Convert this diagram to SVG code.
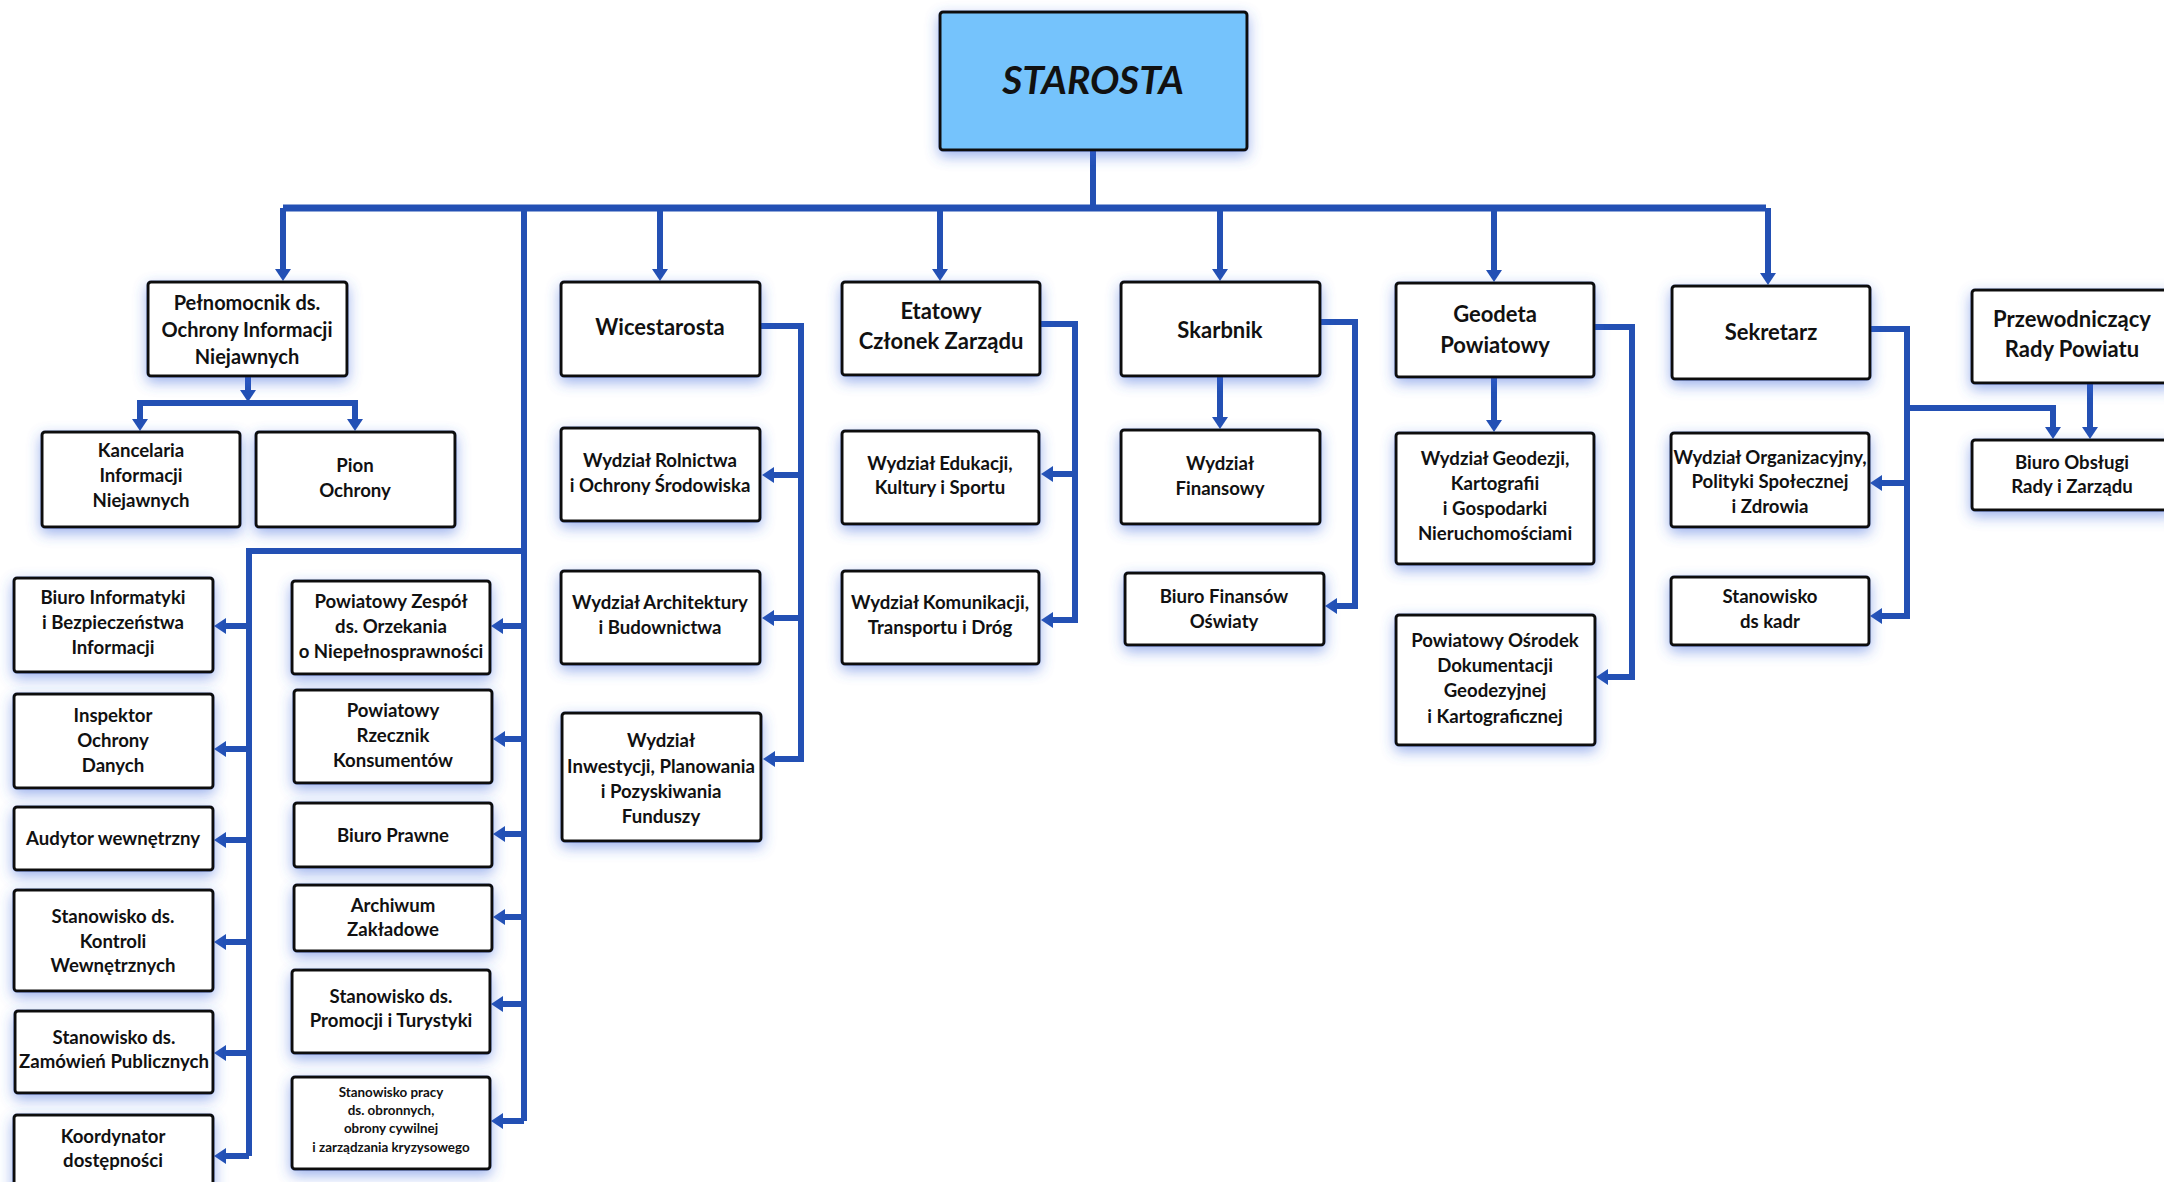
<svg xmlns="http://www.w3.org/2000/svg" width="2164" height="1182" viewBox="0 0 2164 1182">
<defs>
<filter id="glow" x="-20%" y="-25%" width="140%" height="160%">
<feGaussianBlur in="SourceAlpha" stdDeviation="7" result="b"/>
<feOffset in="b" dy="5" result="o"/>
<feFlood flood-color="#3a66dc" flood-opacity="0.5"/>
<feComposite in2="o" operator="in" result="s"/>
<feMerge><feMergeNode in="s"/><feMergeNode in="SourceGraphic"/></feMerge>
</filter>
<marker id="ah" viewBox="0 0 12 16" refX="0" refY="8" markerWidth="12" markerHeight="16" markerUnits="userSpaceOnUse" orient="auto">
<path d="M0,0 L12,8 L0,16 z" fill="#2350B4"/>
</marker>
</defs>
<style>
.box{fill:#fff;stroke:#111;stroke-width:3;filter:url(#glow)}
.top{fill:#74C3FC}
text{font-family:Lato,"Open Sans","Liberation Sans",sans-serif;font-weight:bold;fill:#111;text-anchor:middle;font-size:18.6px}
.lg{font-size:22px}
.md{font-size:20px}
.sm{font-size:13.4px}
.st{font-size:39px;font-style:italic}
.c{fill:none;stroke:#2350B4;stroke-width:6;stroke-linejoin:miter}
.a{marker-end:url(#ah)}
.bus{stroke-width:7}
</style>
<rect width="2164" height="1182" fill="#fff"/>

<g id="connectors">
<path class="c" d="M1093,149 V208"/>
<path class="c bus" d="M283,208 H1766"/>
<path class="c a" d="M283,208 V269"/>
<path class="c a" d="M660,208 V269"/>
<path class="c a" d="M940,208 V269"/>
<path class="c a" d="M1220,208 V269"/>
<path class="c a" d="M1494,208 V270"/>
<path class="c a" d="M1768,208 V273"/>
<path class="c" d="M524,208 V1121"/>
<path class="c" d="M524,551 H249 V1156"/>
<path class="c a" d="M249,626 H226"/>
<path class="c a" d="M249,749 H226"/>
<path class="c a" d="M249,840 H226"/>
<path class="c a" d="M249,942 H226"/>
<path class="c a" d="M249,1053 H226"/>
<path class="c a" d="M249,1156 H226"/>
<path class="c a" d="M524,626 H503"/>
<path class="c a" d="M524,739 H505"/>
<path class="c a" d="M524,834 H505"/>
<path class="c a" d="M524,917 H505"/>
<path class="c a" d="M524,1004 H503"/>
<path class="c a" d="M524,1121 H503"/>
<path class="c a" d="M248,376 V390"/>
<path class="c" d="M140,419 V403 H355 V419"/>
<path class="c a" d="M140,403 V419"/>
<path class="c a" d="M355,403 V419"/>
<path class="c a" d="M760,326 H801 V759 H775"/>
<path class="c a" d="M801,475 H774"/>
<path class="c a" d="M801,618 H774"/>
<path class="c a" d="M1040,324 H1075 V620 H1053"/>
<path class="c a" d="M1075,474 H1053"/>
<path class="c a" d="M1220,376 V417"/>
<path class="c a" d="M1320,322 H1355 V606 H1337"/>
<path class="c a" d="M1494,377 V420"/>
<path class="c a" d="M1594,327 H1632 V677 H1608"/>
<path class="c a" d="M1870,329 H1907 V616 H1882"/>
<path class="c a" d="M1907,483 H1882"/>
<path class="c a" d="M1907,408 H2053 V427"/>
<path class="c a" d="M2090,383 V427"/>
</g>

<g id="starosta"><rect class="box top" x="940" y="12" width="307" height="138" rx="3"/><text class="st" x="1093" y="94">STAROSTA</text></g>

<g id="pelnomocnik"><rect class="box" x="148" y="282" width="199" height="94" rx="3"/><text class="md" x="247" y="310">Pełnomocnik ds.</text><text class="md" x="247" y="337">Ochrony Informacji</text><text class="md" x="247" y="364">Niejawnych</text></g>
<g id="kancelaria"><rect class="box" x="42" y="432" width="198" height="95" rx="3"/><text x="141" y="457">Kancelaria</text><text x="141" y="482">Informacji</text><text x="141" y="507">Niejawnych</text></g>
<g id="pion"><rect class="box" x="256" y="432" width="199" height="95" rx="3"/><text x="355" y="472">Pion</text><text x="355" y="497">Ochrony</text></g>

<g id="biuro-informatyki"><rect class="box" x="14" y="578" width="199" height="94" rx="3"/><text x="113" y="604">Biuro Informatyki</text><text x="113" y="629">i Bezpieczeństwa</text><text x="113" y="654">Informacji</text></g>
<g id="inspektor"><rect class="box" x="14" y="694" width="199" height="94" rx="3"/><text x="113" y="722">Inspektor</text><text x="113" y="747">Ochrony</text><text x="113" y="772">Danych</text></g>
<g id="audytor"><rect class="box" x="14" y="807" width="199" height="63" rx="3"/><text x="113" y="845">Audytor wewnętrzny</text></g>
<g id="kontrola"><rect class="box" x="14" y="890" width="199" height="101" rx="3"/><text x="113" y="923">Stanowisko ds.</text><text x="113" y="948">Kontroli</text><text x="113" y="972">Wewnętrznych</text></g>
<g id="zamowienia"><rect class="box" x="15" y="1011" width="198" height="82" rx="3"/><text x="114" y="1044">Stanowisko ds.</text><text x="114" y="1068">Zamówień Publicznych</text></g>
<g id="koordynator"><rect class="box" x="14" y="1115" width="199" height="90" rx="3"/><text x="113" y="1143">Koordynator</text><text x="113" y="1167">dostępności</text></g>

<g id="zespol"><rect class="box" x="292" y="581" width="198" height="93" rx="3"/><text x="391" y="608">Powiatowy Zespół</text><text x="391" y="633">ds. Orzekania</text><text x="391" y="658">o Niepełnosprawności</text></g>
<g id="rzecznik"><rect class="box" x="294" y="690" width="198" height="93" rx="3"/><text x="393" y="717">Powiatowy</text><text x="393" y="742">Rzecznik</text><text x="393" y="767">Konsumentów</text></g>
<g id="biuro-prawne"><rect class="box" x="294" y="803" width="198" height="64" rx="3"/><text x="393" y="842">Biuro Prawne</text></g>
<g id="archiwum"><rect class="box" x="294" y="885" width="198" height="66" rx="3"/><text x="393" y="912">Archiwum</text><text x="393" y="936">Zakładowe</text></g>
<g id="promocja"><rect class="box" x="292" y="970" width="198" height="83" rx="3"/><text x="391" y="1003">Stanowisko ds.</text><text x="391" y="1027">Promocji i Turystyki</text></g>
<g id="obronnosc"><rect class="box" x="292" y="1077" width="198" height="92" rx="3"/><text class="sm" x="391" y="1097">Stanowisko pracy</text><text class="sm" x="391" y="1115">ds. obronnych,</text><text class="sm" x="391" y="1133">obrony cywilnej</text><text class="sm" x="391" y="1152">i zarządzania kryzysowego</text></g>

<g id="wicestarosta"><rect class="box" x="561" y="282" width="199" height="94" rx="3"/><text class="lg" x="660" y="335">Wicestarosta</text></g>
<g id="rolnictwo"><rect class="box" x="561" y="428" width="199" height="93" rx="3"/><text x="660" y="467">Wydział Rolnictwa</text><text x="660" y="492">i Ochrony Środowiska</text></g>
<g id="architektura"><rect class="box" x="561" y="571" width="199" height="93" rx="3"/><text x="660" y="609">Wydział Architektury</text><text x="660" y="634">i Budownictwa</text></g>
<g id="inwestycje"><rect class="box" x="562" y="713" width="199" height="128" rx="3"/><text x="661" y="747">Wydział</text><text x="661" y="773">Inwestycji, Planowania</text><text x="661" y="798">i Pozyskiwania</text><text x="661" y="823">Funduszy</text></g>

<g id="etatowy"><rect class="box" x="842" y="282" width="198" height="93" rx="3"/><text class="lg" x="941" y="319">Etatowy</text><text class="lg" x="941" y="349">Członek Zarządu</text></g>
<g id="edukacja"><rect class="box" x="842" y="431" width="197" height="93" rx="3"/><text x="940" y="470">Wydział Edukacji,</text><text x="940" y="494">Kultury i Sportu</text></g>
<g id="komunikacja"><rect class="box" x="842" y="571" width="197" height="93" rx="3"/><text x="940" y="609">Wydział Komunikacji,</text><text x="940" y="634">Transportu i Dróg</text></g>

<g id="skarbnik"><rect class="box" x="1121" y="282" width="199" height="94" rx="3"/><text class="lg" x="1220" y="338">Skarbnik</text></g>
<g id="finansowy"><rect class="box" x="1121" y="430" width="199" height="94" rx="3"/><text x="1220" y="470">Wydział</text><text x="1220" y="495">Finansowy</text></g>
<g id="biuro-finansow"><rect class="box" x="1125" y="573" width="199" height="72" rx="3"/><text x="1224" y="603">Biuro Finansów</text><text x="1224" y="628">Oświaty</text></g>

<g id="geodeta"><rect class="box" x="1396" y="283" width="198" height="94" rx="3"/><text class="lg" x="1495" y="322">Geodeta</text><text class="lg" x="1495" y="353">Powiatowy</text></g>
<g id="geodezja"><rect class="box" x="1396" y="433" width="198" height="131" rx="3"/><text x="1495" y="465">Wydział Geodezji,</text><text x="1495" y="490">Kartografii</text><text x="1495" y="515">i Gospodarki</text><text x="1495" y="540">Nieruchomościami</text></g>
<g id="osrodek"><rect class="box" x="1396" y="615" width="199" height="130" rx="3"/><text x="1495" y="647">Powiatowy Ośrodek</text><text x="1495" y="672">Dokumentacji</text><text x="1495" y="697">Geodezyjnej</text><text x="1495" y="723">i Kartograficznej</text></g>

<g id="sekretarz"><rect class="box" x="1672" y="286" width="198" height="93" rx="3"/><text class="lg" x="1771" y="340">Sekretarz</text></g>
<g id="organizacyjny"><rect class="box" x="1671" y="433" width="198" height="94" rx="3"/><text x="1770" y="464">Wydział Organizacyjny,</text><text x="1770" y="488">Polityki Społecznej</text><text x="1770" y="513">i Zdrowia</text></g>
<g id="kadry"><rect class="box" x="1671" y="577" width="198" height="68" rx="3"/><text x="1770" y="603">Stanowisko</text><text x="1770" y="628">ds kadr</text></g>

<g id="przewodniczacy"><rect class="box" x="1972" y="290" width="200" height="93" rx="3"/><text class="lg" x="2072" y="327">Przewodniczący</text><text class="lg" x="2072" y="357">Rady Powiatu</text></g>
<g id="biuro-obslugi"><rect class="box" x="1972" y="440" width="200" height="70" rx="3"/><text x="2072" y="469">Biuro Obsługi</text><text x="2072" y="493">Rady i Zarządu</text></g>
</svg>
